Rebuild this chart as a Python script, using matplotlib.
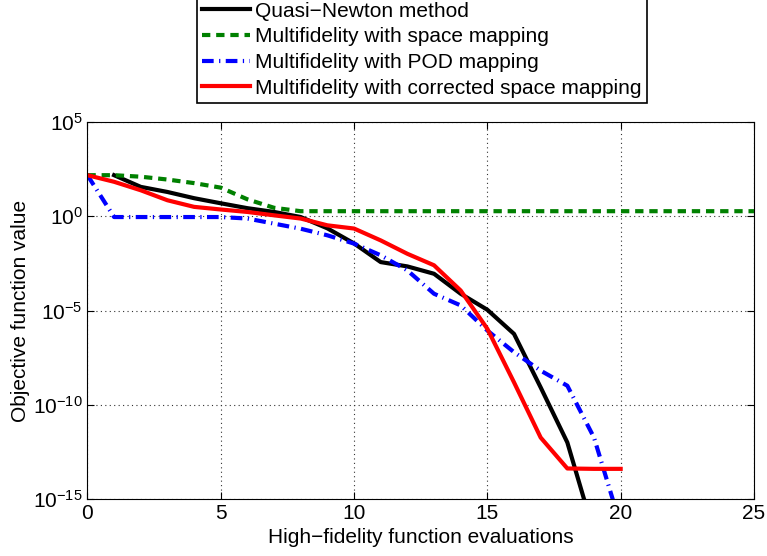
import numpy as np
import matplotlib
matplotlib.use('Agg')
import matplotlib.pyplot as plt

plt.rcParams['font.family'] = ['Liberation Sans', 'DejaVu Sans']
plt.rcParams['mathtext.fontset'] = 'custom'
plt.rcParams['mathtext.rm'] = 'Liberation Sans'

# log10 of objective function value vs. high-fidelity evaluations
x_qn = [1, 2, 3, 4, 5, 6, 7, 8, 9, 10, 11, 12, 13, 14, 15, 16, 17, 18, 19]
log_qn = [2.18, 1.56, 1.29, 0.96, 0.69, 0.43, 0.23, -0.04, -0.64, -1.44,
          -2.43, -2.66, -3.05, -4.11, -4.96, -6.24, -9.08, -12.0, -16.8]

x_sm = list(range(0, 26))
log_sm = [2.18, 2.18, 2.1, 1.95, 1.76, 1.52, 0.9, 0.45, 0.27] + [0.27] * 17

x_pod = list(range(0, 21))
log_pod = [2.18, -0.04, -0.04, -0.04, -0.04, -0.04, -0.12, -0.39, -0.66, -1.01,
           -1.45, -2.07, -2.87, -4.11, -4.73, -6.06, -7.21, -8.19, -8.99, -11.74, -16.4]

x_csm = list(range(0, 21))
log_csm = [2.18, 1.83, 1.38, 0.85, 0.5, 0.36, 0.23, 0.05, -0.12, -0.48,
           -0.65, -1.28, -1.99, -2.6, -3.94, -5.97, -8.81, -11.74, -13.38, -13.4, -13.4]

labels = ['Quasi\u2212Newton method',
          'Multifidelity with space mapping',
          'Multifidelity with POD mapping',
          'Multifidelity with corrected space mapping']

fig = plt.figure(figsize=(7.67, 5.56), dpi=100)
ax = fig.add_axes([0.114, 0.1025, 0.869, 0.678])

lw = 3
ax.semilogy(x_qn, 10.0 ** np.array(log_qn), color='black', lw=lw, label=labels[0])
ax.semilogy(x_sm, 10.0 ** np.array(log_sm), color='#008000', lw=lw,
            linestyle=(0, (2, 1.4)), label=labels[1])
ax.semilogy(x_pod, 10.0 ** np.array(log_pod), color='blue', lw=lw,
            linestyle=(0, (2.8, 1.3, 0.3, 1.3)), label=labels[2])
ax.semilogy(x_csm, 10.0 ** np.array(log_csm), color='red', lw=lw, label=labels[3])

fs = 15
ax.set_xlim(0, 25)
ax.set_ylim(1e-15, 1e5)
ax.set_xticks([0, 5, 10, 15, 20, 25])
ax.set_yticks([1e-15, 1e-10, 1e-5, 1e0, 1e5])
ax.minorticks_off()
ax.tick_params(direction='in', top=True, right=True, labelsize=fs, length=5)
ax.grid(True, linestyle=(0, (1, 3)), color='#333333', linewidth=0.8)
ax.set_xlabel('High\u2212fidelity function evaluations', fontsize=fs, labelpad=4)
ax.set_ylabel('Objective function value', fontsize=fs, labelpad=2)

leg = fig.legend(loc='lower left', bbox_to_anchor=(0.257, 0.815), fontsize=fs,
                 frameon=True, fancybox=False, edgecolor='black', framealpha=1,
                 handlelength=2.3, handletextpad=0.25, labelspacing=0.32,
                 borderpad=0.25, borderaxespad=0)
leg.get_frame().set_linewidth(1.2)

fig.savefig('out.png', dpi=100)
